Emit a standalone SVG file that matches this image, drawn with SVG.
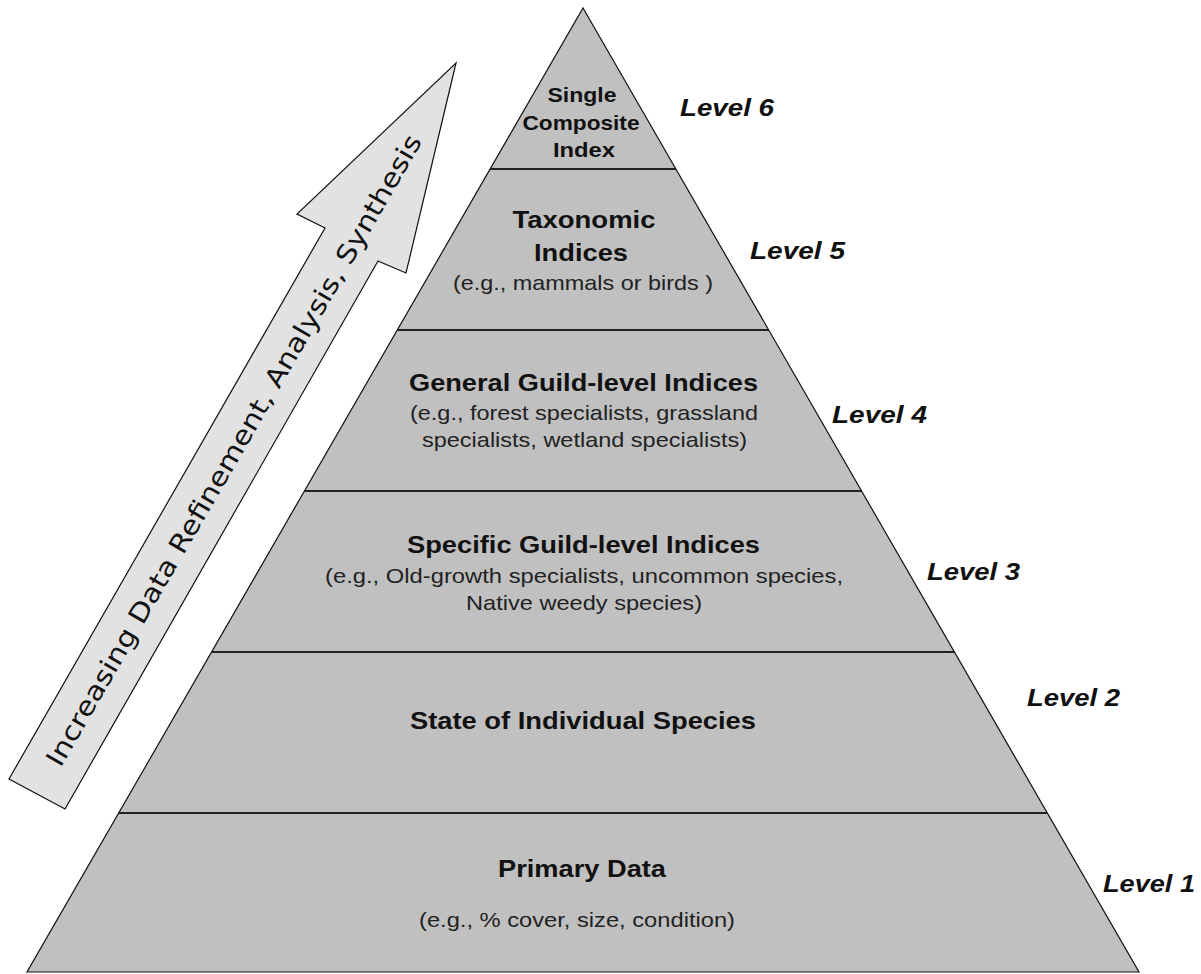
<svg xmlns="http://www.w3.org/2000/svg" width="1201" height="974" viewBox="0 0 1201 974">
<style>
.t{font-family:"Liberation Sans",Arial,sans-serif;font-weight:bold;font-size:24px;fill:#111;text-anchor:middle}
.s{font-family:"Liberation Sans",Arial,sans-serif;font-weight:bold;font-size:21px;fill:#111;text-anchor:middle}
.r{font-family:"Liberation Sans",Arial,sans-serif;font-size:21px;fill:#222;text-anchor:middle}
.lv{font-family:"Liberation Sans",Arial,sans-serif;font-weight:bold;font-style:italic;font-size:23px;fill:#111}
.div{stroke:#222;stroke-width:2.2}
.arrowtxt{font-family:"DejaVu Sans",Verdana,sans-serif;font-size:26px;fill:#111;text-anchor:middle}
</style>
<rect width="1201" height="974" fill="#fff"/>

<g id="arrow">
<polygon points="456,63 406,273 378,261 65,809 9,779 325,228 297,214" fill="#e2e2e2" stroke="#111" stroke-width="1.2" stroke-linejoin="miter"/>
<text class="arrowtxt" transform="translate(241.6,454.8) rotate(-60)" textLength="724" lengthAdjust="spacingAndGlyphs">Increasing Data Refinement, Analysis, Synthesis</text>
</g>

<g id="pyramid">
<polygon points="583,8 1139,972 27,972" fill="#c0c0c0" stroke="#111" stroke-width="1.2"/>
</g>

<g id="connectors">
<line class="div" x1="490" y1="169" x2="676" y2="169"/>
<line class="div" x1="397" y1="330" x2="769" y2="330"/>
<line class="div" x1="304" y1="491" x2="862" y2="491"/>
<line class="div" x1="211" y1="652" x2="955" y2="652"/>
<line class="div" x1="118" y1="813" x2="1048" y2="813"/>
</g>

<g id="level6">
<text class="s" x="582" y="102" textLength="69" lengthAdjust="spacingAndGlyphs">Single</text>
<text class="s" x="581" y="130" textLength="117" lengthAdjust="spacingAndGlyphs">Composite</text>
<text class="s" x="584" y="157" textLength="62" lengthAdjust="spacingAndGlyphs">Index</text>
<text class="lv" x="680" y="116" textLength="94" lengthAdjust="spacingAndGlyphs">Level 6</text>
</g>

<g id="level5">
<text class="t" x="584" y="228" textLength="143" lengthAdjust="spacingAndGlyphs">Taxonomic</text>
<text class="t" x="581" y="261" textLength="94" lengthAdjust="spacingAndGlyphs">Indices</text>
<text class="r" x="583" y="290" textLength="260" lengthAdjust="spacingAndGlyphs">(e.g., mammals or birds )</text>
<text class="lv" x="750" y="259" textLength="95" lengthAdjust="spacingAndGlyphs">Level 5</text>
</g>

<g id="level4">
<text class="t" x="583.5" y="391" textLength="349" lengthAdjust="spacingAndGlyphs">General Guild-level Indices</text>
<text class="r" x="584" y="420" textLength="348" lengthAdjust="spacingAndGlyphs">(e.g., forest specialists, grassland</text>
<text class="r" x="584.5" y="447" textLength="325" lengthAdjust="spacingAndGlyphs">specialists, wetland specialists)</text>
<text class="lv" x="832" y="423" textLength="95" lengthAdjust="spacingAndGlyphs">Level 4</text>
</g>

<g id="level3">
<text class="t" x="583.5" y="553" textLength="353" lengthAdjust="spacingAndGlyphs">Specific Guild-level Indices</text>
<text class="r" x="584" y="583" textLength="518" lengthAdjust="spacingAndGlyphs">(e.g., Old-growth specialists, uncommon species,</text>
<text class="r" x="584" y="610" textLength="236" lengthAdjust="spacingAndGlyphs">Native weedy species)</text>
<text class="lv" x="927" y="580" textLength="93" lengthAdjust="spacingAndGlyphs">Level 3</text>
</g>

<g id="level2">
<text class="t" x="583" y="729" textLength="346" lengthAdjust="spacingAndGlyphs">State of Individual Species</text>
<text class="lv" x="1027" y="706" textLength="93" lengthAdjust="spacingAndGlyphs">Level 2</text>
</g>

<g id="level1">
<text class="t" x="582" y="877" textLength="168" lengthAdjust="spacingAndGlyphs">Primary Data</text>
<text class="r" x="577" y="927" textLength="316" lengthAdjust="spacingAndGlyphs">(e.g., % cover, size, condition)</text>
<text class="lv" x="1103" y="892" textLength="92" lengthAdjust="spacingAndGlyphs">Level 1</text>
</g>
</svg>
